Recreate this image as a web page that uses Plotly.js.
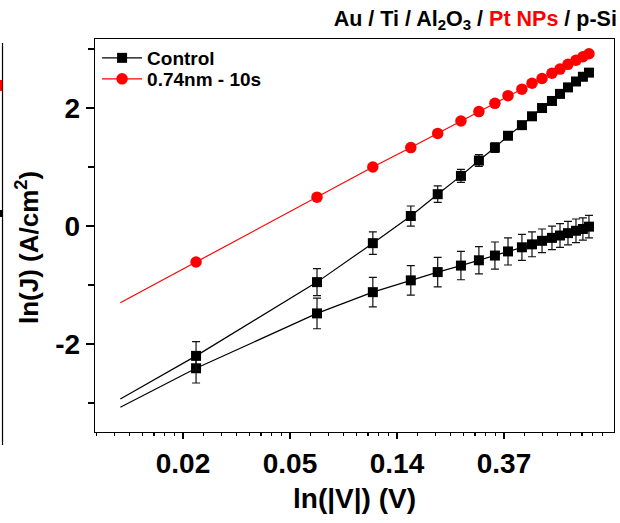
<!DOCTYPE html>
<html>
<head>
<meta charset="utf-8">
<script src="https://cdn.plot.ly/plotly-3.0.1.min.js"></script>
<style>html,body{margin:0;padding:0;background:#fff;}#chart{width:620px;height:523px;}</style>
</head>
<body>
<div id="chart"></div>
<script>
// Voltage |V| (V) for each measured point
var voltage = [0.0207, 0.0641, 0.108, 0.154, 0.198, 0.246, 0.291, 0.338, 0.382, 0.435, 0.478, 0.525, 0.576, 0.621, 0.669, 0.721, 0.769, 0.814];
// ln(J) series
var controlUpper = [-2.20, -0.95, -0.29, 0.17, 0.54, 0.85, 1.11, 1.33, 1.53, 1.71, 1.86, 2.00, 2.12, 2.24, 2.35, 2.45, 2.53, 2.60];
var controlUpperErr = [0.24, 0.23, 0.19, 0.17, 0.14, 0.11, 0.10, 0.08, 0.06, 0.05, 0.05, 0.04, 0.04, 0.03, 0.03, 0.03, 0.02, 0.02];
var controlLower = [-2.41, -1.48, -1.12, -0.92, -0.78, -0.67, -0.58, -0.50, -0.43, -0.36, -0.31, -0.25, -0.20, -0.16, -0.12, -0.08, -0.05, -0.01];
var controlLowerErr = [0.25, 0.26, 0.25, 0.25, 0.25, 0.24, 0.23, 0.23, 0.23, 0.22, 0.21, 0.20, 0.20, 0.20, 0.20, 0.20, 0.19, 0.19];
var ptNPs = [-0.61, 0.49, 1.00, 1.33, 1.57, 1.78, 1.94, 2.08, 2.21, 2.32, 2.42, 2.50, 2.59, 2.66, 2.74, 2.81, 2.87, 2.92];
// line lead-in start (no marker)
var leadV = 0.0102;
var leadUpper = -2.93, leadLower = -3.07, leadPt = -1.30;
// axis ticks
var xTickVals = [Math.exp(-4), Math.exp(-3), Math.exp(-2), Math.exp(-1)];
var xTickText = ['0.02', '0.05', '0.14', '0.37'];
var yTickVals = [-2, 0, 2];
var yTickText = ['-2', '0', '2'];
var seriesNames = ['Control', '0.74nm - 10s'];

var FONT = 'Arial, "Liberation Sans", sans-serif';
var minorVals = [];
for (var n = -5; n < 1; n++) {
  var a = Math.exp(n), b = Math.exp(n + 1);
  for (var k = 1; k < 8; k++) minorVals.push(a + k * (b - a) / 8);
}
function lead(y0, y1, color) {
  return {x: [leadV, voltage[0]], y: [y0, y1], mode: 'lines', line: {color: color, width: 1.2}, showlegend: false, hoverinfo: 'skip'};
}
var errStyle = function (arr) {
  return {type: 'data', array: arr, visible: true, color: '#111', thickness: 1.2, width: 4};
};
var traces = [
  lead(leadUpper, controlUpper[0], '#000'),
  lead(leadLower, controlLower[0], '#000'),
  lead(leadPt, ptNPs[0], '#ff0000'),
  {x: voltage, y: controlLower, name: 'lower', mode: 'lines+markers', showlegend: false,
   line: {color: '#000', width: 1.2}, marker: {symbol: 'square', size: 10, color: '#000'},
   error_y: errStyle(controlLowerErr)},
  {x: voltage, y: controlUpper, name: seriesNames[0], mode: 'lines+markers', legend: 'legend',
   line: {color: '#000', width: 1.2}, marker: {symbol: 'square', size: 10, color: '#000'},
   error_y: errStyle(controlUpperErr)},
  {x: voltage, y: ptNPs, name: seriesNames[1], mode: 'lines+markers', legend: 'legend2',
   line: {color: '#ff0000', width: 1.2}, marker: {symbol: 'circle', size: 11.5, color: '#ff0000'}}
];
var legendBase = {xanchor: 'left', yanchor: 'top', bgcolor: 'rgba(0,0,0,0)',
  font: {family: FONT, size: 19, weight: 'bold'}, itemwidth: 40};
var layout = {
  width: 620, height: 523,
  margin: {l: 95, r: 6, t: 39, b: 91},
  paper_bgcolor: '#fff', plot_bgcolor: '#fff',
  font: {family: FONT, color: '#000'},
  showlegend: true,
  title: {
    text: 'Au / Ti / Al<sub>2</sub>O<sub>3</sub> / <span style="color:#ff0000">Pt NPs</span> / p-Si',
    font: {family: FONT, size: 21.5, weight: 'bold', color: '#000'},
    xref: 'container', x: 0.995, xanchor: 'right',
    yref: 'container', y: 0.965, yanchor: 'middle'
  },
  legend: Object.assign({x: 0.004, y: 1.0}, legendBase),
  legend2: Object.assign({x: 0.004, y: 0.9466}, legendBase),
  xaxis: {
    type: 'log', range: [-2.0942, 0.0122],
    tickmode: 'array', tickvals: xTickVals, ticktext: xTickText,
    ticks: 'outside', ticklen: 6, tickwidth: 1.2, tickcolor: '#000',
    minor: {tickmode: 'array', tickvals: minorVals, ticks: 'outside', ticklen: 3, tickwidth: 1.2, tickcolor: '#000'},
    showline: true, linecolor: '#000', linewidth: 1.2, mirror: true,
    showgrid: false, zeroline: false,
    tickfont: {family: FONT, size: 28, weight: 'bold'},
    title: {text: 'ln(|V|) (V)', font: {family: FONT, size: 28, weight: 'bold'}, standoff: 10}
  },
  yaxis: {
    range: [-3.49, 3.17], tickmode: 'array', tickvals: yTickVals, ticktext: yTickText,
    ticks: 'outside', ticklen: 8, tickwidth: 1.2, tickcolor: '#000',
    minor: {dtick: 1, tick0: 0, ticks: 'outside', ticklen: 6, tickwidth: 1.2, tickcolor: '#000'},
    showline: true, linecolor: '#000', linewidth: 1.2, mirror: true,
    showgrid: false, zeroline: false,
    tickfont: {family: FONT, size: 28, weight: 'bold'},
    ticklabelstandoff: 0
  },
  annotations: [
    {text: 'ln(J) (A/cm<sup>2</sup>)', xref: 'paper', yref: 'paper', x: -0.131, y: 0.468,
     xanchor: 'center', yanchor: 'middle', textangle: -90, showarrow: false,
     font: {family: FONT, size: 26, weight: 'bold', color: '#000'}}
  ],
  shapes: [
    {type: 'line', xref: 'paper', yref: 'paper', x0: -0.1782, x1: -0.1782, y0: 0.9898, y1: -0.0331, line: {color: '#000', width: 1.2}},
    {type: 'rect', xref: 'paper', yref: 'paper', x0: -0.183, x1: -0.1785, y0: 0.8957, y1: 0.8677, fillcolor: '#ff0000', line: {width: 0}},
    {type: 'rect', xref: 'paper', yref: 'paper', x0: -0.183, x1: -0.1785, y0: 0.5649, y1: 0.5471, fillcolor: '#000', line: {width: 0}}
  ]
};
Plotly.newPlot('chart', traces, layout, {displayModeBar: false, staticPlot: true});
</script>
</body>
</html>
